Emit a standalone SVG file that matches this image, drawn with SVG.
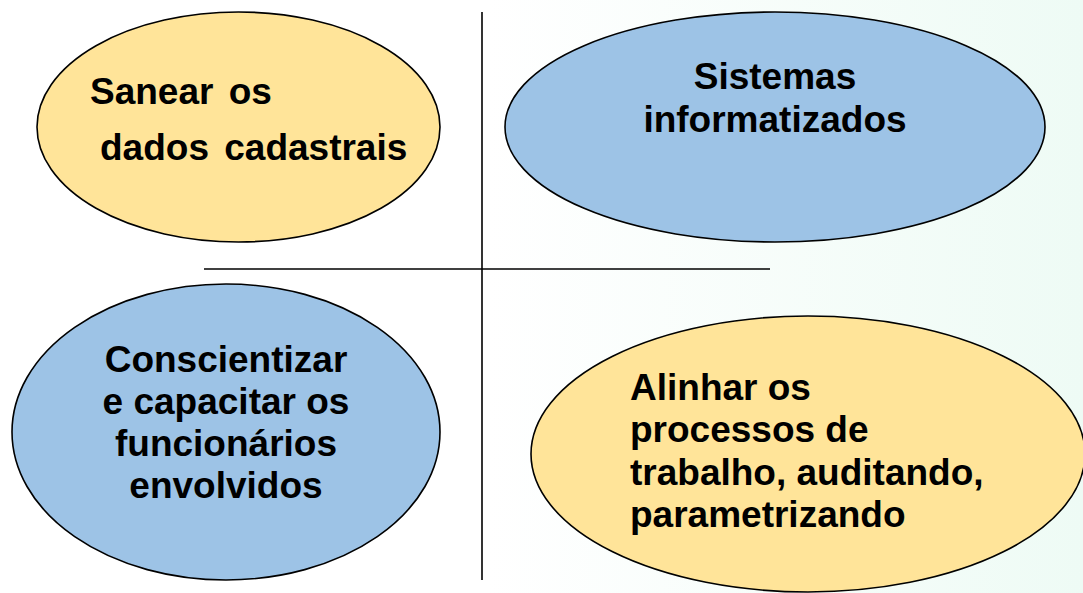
<svg xmlns="http://www.w3.org/2000/svg" width="1083" height="593" viewBox="0 0 1083 593">
<defs>
<linearGradient id="bg" x1="0" y1="0" x2="1" y2="0">
<stop offset="0" stop-color="#ffffff"/>
<stop offset="0.45" stop-color="#ffffff"/>
<stop offset="1" stop-color="#eefbf5"/>
</linearGradient>
<style>
.y{fill:#FFE499;stroke:#000;stroke-width:1.6}
.b{fill:#9DC3E6;stroke:#000;stroke-width:1.6}
.t{font-family:"Liberation Sans",Arial,sans-serif;font-weight:bold;font-size:37px;fill:#000}
.c{text-anchor:middle}
.ln{stroke:#000;stroke-width:1.6;fill:none}
</style>
</defs>
<rect x="0" y="0" width="1083" height="593" fill="url(#bg)"/>
<g id="connectors">
<line class="ln" x1="482" y1="12" x2="482" y2="580"/>
<line class="ln" x1="204" y1="269" x2="770" y2="269"/>
</g>
<g id="node-sanear">
<ellipse class="y" cx="238.5" cy="127" rx="201.5" ry="115"/>
<text class="t" x="90" y="104" word-spacing="5">Sanear os</text>
<text class="t" x="100" y="160" word-spacing="5">dados cadastrais</text>
</g>
<g id="node-sistemas">
<ellipse class="b" cx="775" cy="127" rx="270" ry="115"/>
<text class="t c" x="775" y="89">Sistemas</text>
<text class="t c" x="775" y="132">informatizados</text>
</g>
<g id="node-conscientizar">
<ellipse class="b" cx="226" cy="432" rx="214" ry="148"/>
<text class="t c" x="226" y="372">Conscientizar</text>
<text class="t c" x="226" y="414">e capacitar os</text>
<text class="t c" x="226" y="456">funcionários</text>
<text class="t c" x="226" y="498">envolvidos</text>
</g>
<g id="node-alinhar">
<ellipse class="y" cx="808" cy="454" rx="277" ry="138"/>
<text class="t" x="630" y="400">Alinhar os</text>
<text class="t" x="630" y="442">processos de</text>
<text class="t" x="630" y="485">trabalho, auditando,</text>
<text class="t" x="630" y="527">parametrizando</text>
</g>
</svg>
